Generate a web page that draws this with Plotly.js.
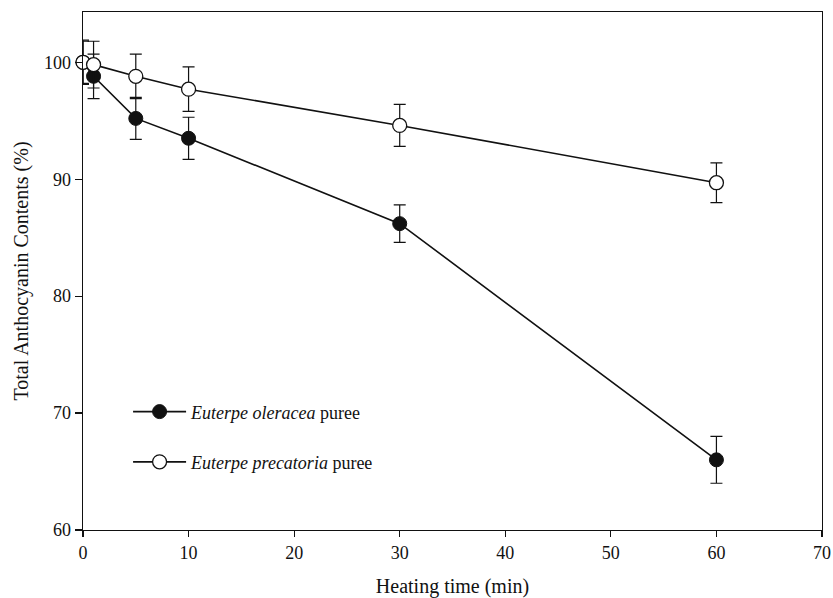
<!DOCTYPE html>
<html>
<head>
<meta charset="utf-8">
<script src="https://cdn.plot.ly/plotly-3.0.1.min.js"></script>
<style>html,body{margin:0;padding:0;background:#fff}#chart{width:833px;height:598px}</style>
</head>
<body>
<div id="chart"></div>
<script>
const time = [0, 1, 5, 10, 30, 60];
const oleracea = [100, 98.8, 95.2, 93.5, 86.2, 66.0];
const oleraceaErr = [1.8, 1.9, 1.8, 1.8, 1.6, 2.0];
const precatoria = [100, 99.8, 98.8, 97.7, 94.6, 89.7];
const precatoriaErr = [1.9, 2.0, 1.9, 1.9, 1.8, 1.7];
const names = ['<i>Euterpe oleracea</i> puree', '<i>Euterpe precatoria</i> puree'];

const common = {
  type: 'scatter', mode: 'lines+markers', x: time, cliponaxis: false,
  line: {color: '#111', width: 1.6}
};
const traces = [
  Object.assign({}, common, {
    y: oleracea, name: names[0], legend: 'legend',
    marker: {color: '#111', size: 14, line: {color: '#111', width: 1}},
    error_y: {type: 'data', array: oleraceaErr, visible: true, color: '#111', thickness: 1.2, width: 6}
  }),
  Object.assign({}, common, {
    y: precatoria, name: names[1], legend: 'legend2',
    marker: {color: '#fff', size: 14, line: {color: '#111', width: 1.3}},
    error_y: {type: 'data', array: precatoriaErr, visible: true, color: '#111', thickness: 1.2, width: 6}
  })
];

const legendBase = {x: 0.061, xanchor: 'left', yanchor: 'middle', bgcolor: 'rgba(0,0,0,0)',
                    font: {size: 18}, itemwidth: 53};
const layout = {
  width: 833, height: 598,
  margin: {l: 83, r: 11, t: 12, b: 68},
  paper_bgcolor: '#fff', plot_bgcolor: '#fff',
  font: {family: 'Liberation Serif, Times New Roman, serif', size: 18, color: '#111'},
  showlegend: true,
  legend: Object.assign({}, legendBase, {y: 0.228}),
  legend2: Object.assign({}, legendBase, {y: 0.131}),
  xaxis: {
    range: [0, 70], tickvals: [0,10,20,30,40,50,60,70], showgrid: false, zeroline: false,
    showline: true, linecolor: '#111', linewidth: 1.3, mirror: true,
    ticks: 'outside', ticklen: 6, tickcolor: '#111', tickwidth: 1.2,
    title: {text: 'Heating time (min)', font: {size: 20}, standoff: 18}
  },
  yaxis: {
    range: [60, 104.3], tickvals: [60,70,80,90,100], showgrid: false, zeroline: false,
    showline: true, linecolor: '#111', linewidth: 1.3, mirror: true,
    ticks: 'outside', ticklen: 7, tickcolor: '#111', tickwidth: 1.2,
    title: {text: 'Total Anthocyanin Contents (%)', font: {size: 20}, standoff: 10}
  }
};
Plotly.newPlot('chart', traces, layout, {displayModeBar: false, staticPlot: true});
</script>
</body>
</html>
